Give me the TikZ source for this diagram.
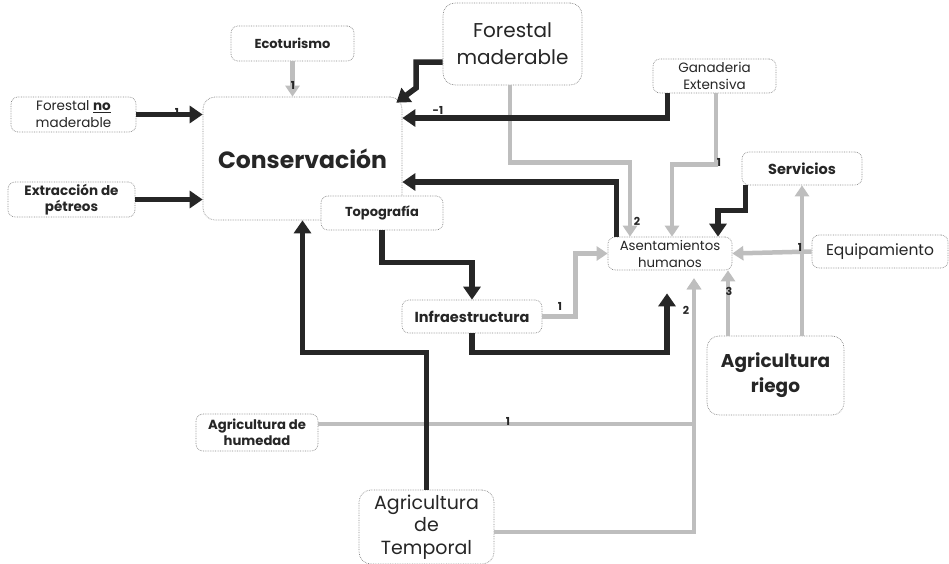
\documentclass[tikz,border=0pt]{standalone}
\usepackage{fontspec}
\setmainfont{Poppins}
\usetikzlibrary{arrows.meta}
\definecolor{dk}{HTML}{262626}
\definecolor{lg}{HTML}{BEBEBE}
\definecolor{bd}{HTML}{8A8A8A}
\newcommand\fsz[2]{\fontsize{#1}{#2}\selectfont}
\begin{document}
\begin{tikzpicture}[x=1pt,y=-1pt,
 box/.style={draw=bd, densely dotted, line width=0.7pt, rounded corners=7pt, fill=white, align=center, inner sep=0pt, text=dk},
 bigbox/.style={box, rounded corners=12pt},
 dkline/.style={draw=dk, line width=5.5pt, -{Triangle[width=17pt,length=13pt]}},
 ltline/.style={draw=lg, line width=4.5pt, -{Triangle[width=14pt,length=11pt]}},
 lbl/.style={font=\fsz{11}{11}\bfseries, text=dk, inner sep=0pt}]
\fill[white] (0,0) rectangle (949,563);
\useasboundingbox (0,0) rectangle (949,563);
% nodes
\node[box, minimum width=123pt, minimum height=35pt, font=\fsz{13}{16}\bfseries] (eco) at (292.5,43.5) {Ecoturismo};
\node[box, minimum width=125pt, minimum height=35pt, font=\fsz{13.5}{17}] (fnm) at (73.5,114.5) {Forestal \underline{\textbf{no}}\\maderable};
\node[box, minimum width=127pt, minimum height=35pt, font=\fsz{13.5}{16}\bfseries] (ext) at (71.5,199.5) {Extracción de\\pétreos};
\node[bigbox, minimum width=199pt, minimum height=123pt, font=\fsz{23.5}{26}\bfseries] (cons) at (302.5,158.5) {Conservación};
\node[bigbox, minimum width=139pt, minimum height=82pt, font=\fsz{20}{27}] (fm) at (512.5,44) {Forestal\\maderable};
\node[box, minimum width=123pt, minimum height=34pt, font=\fsz{13.5}{17}] (ge) at (714.5,76) {Ganaderia\\Extensiva};
\node[box, minimum width=120pt, minimum height=33pt, font=\fsz{14.5}{16}\bfseries] (serv) at (802,168.5) {Servicios};
\node[box, minimum width=122pt, minimum height=34pt, font=\fsz{13}{16}\bfseries] (topo) at (382,213) {Topografía};
\node[box, minimum width=124pt, minimum height=33pt, font=\fsz{13.3}{17}] (ah) at (670,253.5) {Asentamientos\\humanos};
\node[box, minimum width=136pt, minimum height=33pt, font=\fsz{15.5}{17}] (equip) at (880,251.5) {Equipamiento};
\node[box, minimum width=140pt, minimum height=33pt, font=\fsz{14.5}{17}\bfseries] (infra) at (472,316.5) {Infraestructura};
\node[bigbox, minimum width=137pt, minimum height=79pt, font=\fsz{18.5}{25}\bfseries] (riego) at (775.5,375.5) {Agricultura\\riego};
\node[box, minimum width=122pt, minimum height=37pt, font=\fsz{13.2}{16}\bfseries] (hum) at (257,432.5) {Agricultura de\\humedad};
\node[bigbox, minimum width=135pt, minimum height=74pt, font=\fsz{19}{22.5}] (temp) at (426.5,527) {Agricultura\\de\\Temporal};
% light connectors
\draw[ltline] (eco.south) -- (eco.south |- cons.north);
\draw[ltline] ([xshift=-2.5pt]fm.south) -- ++(0,77) -| ([xshift=-40pt]ah.north);
\draw[ltline] ([xshift=1.5pt]ge.south) -- ++(0,71) -| ([xshift=2pt]ah.north);
\draw[ltline] (infra.east) -- ++(33,0) |- (ah.west);
\draw[ltline] (equip.west) -- (ah.east);
\draw[ltline] ([xshift=-47.5pt]riego.north) -- ([xshift=58pt]ah.south);
\draw[ltline] ([xshift=26.5pt]riego.north) -- ([xshift=0pt]serv.south);
\draw[ltline, shorten >=8pt] ([yshift=8.5pt]hum.east) -| ([xshift=24pt]ah.south);
\draw[ltline, shorten >=8pt] ([yshift=-5pt]temp.east) -| ([xshift=24pt]ah.south);
% dark connectors
\draw[dkline] (fnm.east) -- (fnm.east -| cons.west);
\draw[dkline] (ext.east) -- (ext.east -| cons.west);
\draw[dkline] ([yshift=-18pt]fm.west) -- (416,62) -- (416,88) -- ([xshift=-6pt,yshift=-6pt]cons.north east);
\draw[dkline] ([xshift=15pt]ge.south west) |- ([yshift=40.5pt]cons.east);
\draw[dkline] ([xshift=9pt]ah.north west) |- ([yshift=-23.5pt]cons.east);
\draw[dkline] (topo.south) -- ++(0,32) -| (infra.north);
\draw[dkline] (temp.north) -- ++(0,-137) -| (cons.south);
\draw[dkline] ([xshift=4pt]serv.south west) -- ++(0,25) -| ([xshift=48pt]ah.north);
\draw[dkline, shorten >=23pt] (infra.south) -- ++(0,19) -| ([xshift=-3pt]ah.south);
% labels
\node[lbl] (l1) at (293,85) {1};
\node[lbl] (l2) at (177,112) {1};
\node[lbl] (l3) at (438,110) {-1};
\node[lbl] (l4) at (637,221) {2};
\node[lbl] (l5) at (719,162) {1};
\node[lbl] (l6) at (560,306) {1};
\node[lbl] (l7) at (800,247) {1};
\node[lbl] (l8) at (729,291) {3};
\node[lbl] (l9) at (686,310) {2};
\node[lbl] (l10) at (508,421) {1};
\end{tikzpicture}
\end{document}
